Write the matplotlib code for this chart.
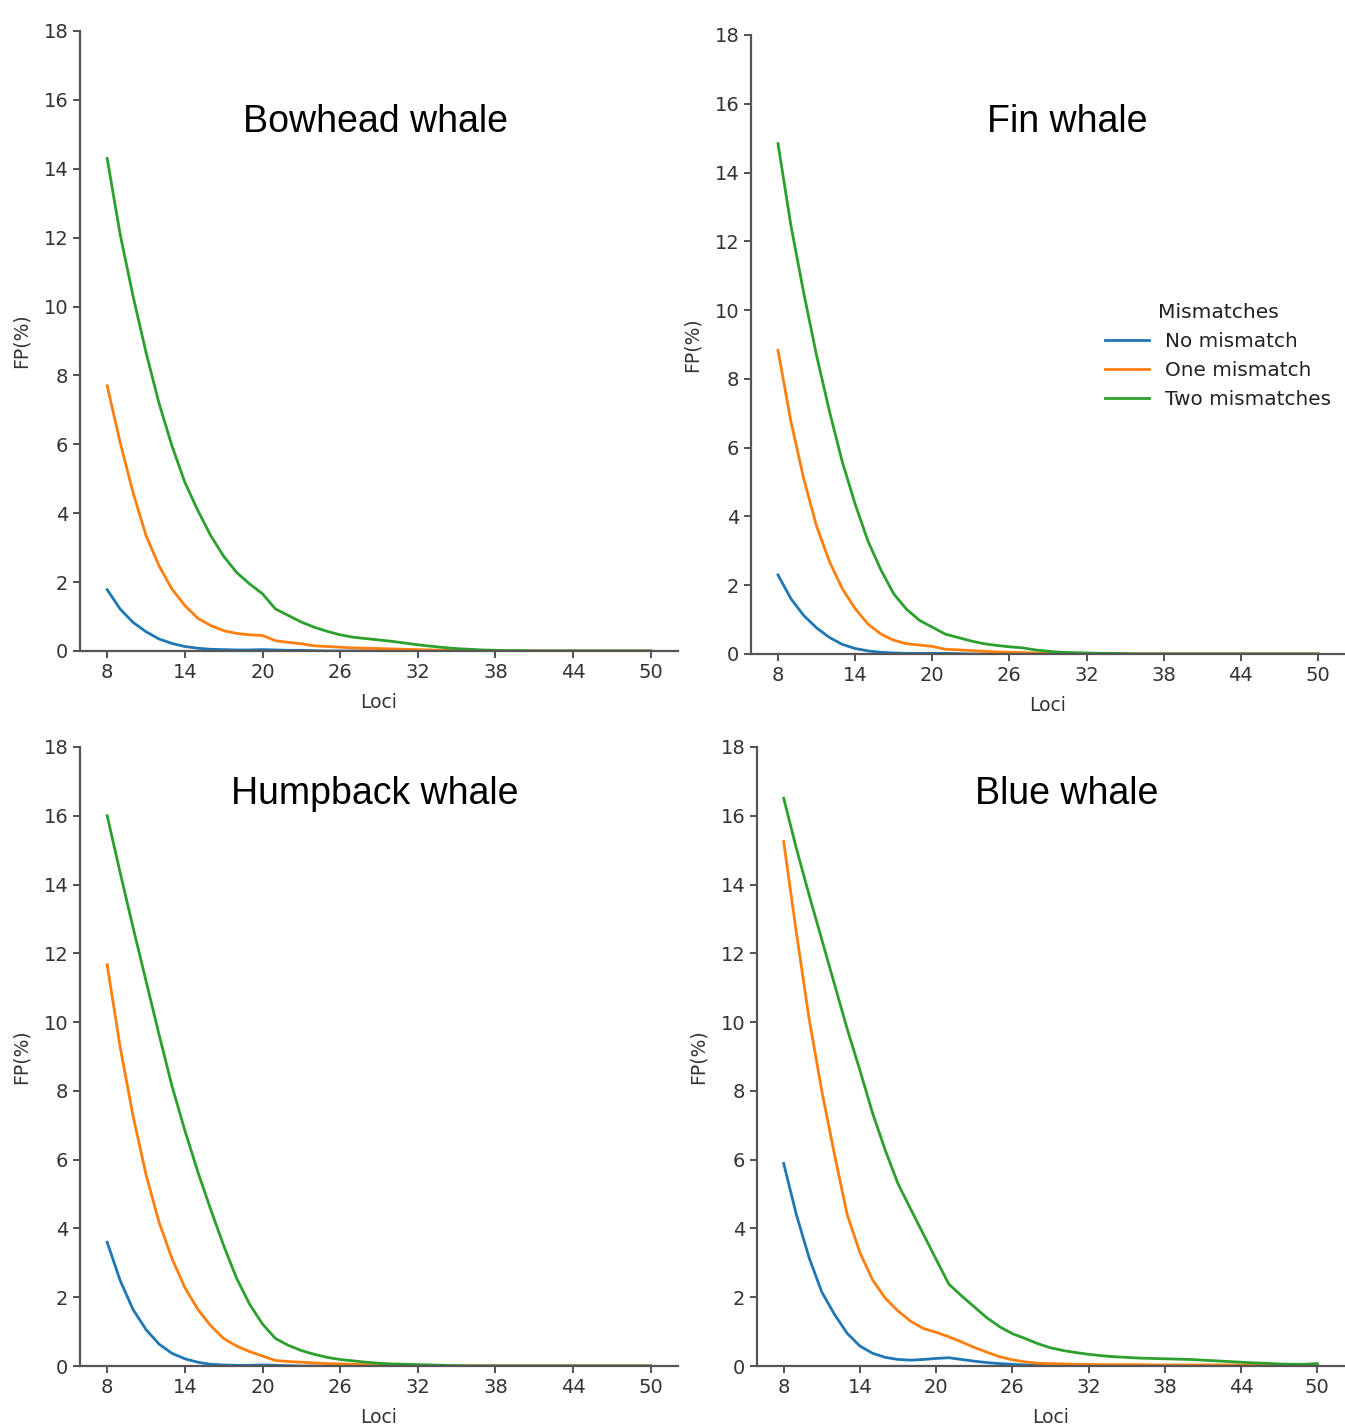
import matplotlib
matplotlib.use("Agg")
import matplotlib.pyplot as plt

loci = list(range(8, 51))
xticks = [8, 14, 20, 26, 32, 38, 44, 50]
yticks = [0, 2, 4, 6, 8, 10, 12, 14, 16, 18]
series_names = ["No mismatch", "One mismatch", "Two mismatches"]
whales = ["Bowhead whale", "Fin whale", "Humpback whale", "Blue whale"]

# FP(%) per number of loci (8..50)
bowhead_none = [1.78, 1.22, 0.83, 0.56, 0.35, 0.22, 0.13, 0.08, 0.05, 0.04,
                0.03, 0.03, 0.04, 0.03, 0.02, 0.02, 0.01, 0, 0, 0,
                0, 0, 0, 0, 0, 0, 0, 0, 0, 0,
                0, 0, 0, 0, 0, 0, 0, 0, 0, 0, 0, 0, 0]
bowhead_one = [7.7, 6.06, 4.6, 3.35, 2.48, 1.8, 1.32, 0.95, 0.74, 0.59,
               0.51, 0.47, 0.45, 0.3, 0.25, 0.21, 0.15, 0.13, 0.11, 0.09,
               0.08, 0.07, 0.06, 0.05, 0.04, 0.03, 0.02, 0.02, 0.01, 0.01,
               0, 0, 0, 0, 0, 0, 0, 0, 0, 0, 0, 0, 0]
bowhead_two = [14.3, 12.1, 10.3, 8.67, 7.2, 5.96, 4.9, 4.08, 3.35, 2.75,
               2.28, 1.95, 1.66, 1.22, 1.03, 0.84, 0.69, 0.57, 0.47, 0.4,
               0.36, 0.32, 0.28, 0.23, 0.18, 0.14, 0.1, 0.07, 0.05, 0.03,
               0.02, 0.01, 0.01, 0, 0, 0, 0, 0, 0, 0, 0, 0, 0]

fin_none = [2.3, 1.61, 1.12, 0.76, 0.48, 0.28, 0.16, 0.09, 0.05, 0.03,
            0.02, 0.02, 0.02, 0.02, 0.01, 0, 0, 0, 0, 0,
            0, 0, 0, 0, 0, 0, 0, 0, 0, 0,
            0, 0, 0, 0, 0, 0, 0, 0, 0, 0, 0, 0, 0]
fin_one = [8.83, 6.77, 5.1, 3.72, 2.69, 1.9, 1.32, 0.87, 0.58, 0.4,
           0.3, 0.26, 0.22, 0.14, 0.12, 0.1, 0.08, 0.06, 0.05, 0.04,
           0.03, 0.02, 0.02, 0.01, 0, 0, 0, 0, 0, 0,
           0, 0, 0, 0, 0, 0, 0, 0, 0, 0, 0, 0, 0]
fin_two = [14.84, 12.47, 10.5, 8.68, 7.06, 5.59, 4.36, 3.28, 2.45, 1.75,
           1.3, 0.98, 0.78, 0.58, 0.48, 0.38, 0.3, 0.25, 0.21, 0.18,
           0.12, 0.08, 0.05, 0.04, 0.03, 0.02, 0.02, 0.01, 0, 0,
           0, 0, 0, 0, 0, 0, 0, 0, 0, 0, 0, 0, 0]

humpback_none = [3.6, 2.49, 1.64, 1.06, 0.64, 0.37, 0.21, 0.11, 0.05, 0.03,
                 0.02, 0.02, 0.03, 0.02, 0.01, 0, 0, 0, 0, 0,
                 0, 0, 0, 0, 0, 0, 0, 0, 0, 0,
                 0, 0, 0, 0, 0, 0, 0, 0, 0, 0, 0, 0, 0]
humpback_one = [11.67, 9.28, 7.27, 5.57, 4.19, 3.13, 2.28, 1.65, 1.17, 0.8,
                0.58, 0.42, 0.29, 0.16, 0.13, 0.11, 0.09, 0.07, 0.06, 0.05,
                0.04, 0.03, 0.02, 0.02, 0.01, 0, 0, 0, 0, 0,
                0, 0, 0, 0, 0, 0, 0, 0, 0, 0, 0, 0, 0]
humpback_two = [16.0, 14.35, 12.75, 11.2, 9.65, 8.15, 6.85, 5.65, 4.55, 3.5,
                2.55, 1.8, 1.22, 0.8, 0.6, 0.45, 0.34, 0.25, 0.19, 0.15,
                0.11, 0.08, 0.06, 0.05, 0.04, 0.03, 0.02, 0.01, 0, 0,
                0, 0, 0, 0, 0, 0, 0, 0, 0, 0, 0, 0, 0]

blue_none = [5.89, 4.4, 3.15, 2.15, 1.5, 0.95, 0.58, 0.37, 0.25, 0.19,
             0.17, 0.19, 0.22, 0.24, 0.19, 0.14, 0.1, 0.07, 0.05, 0.03,
             0.02, 0.01, 0, 0, 0, 0, 0, 0, 0, 0,
             0, 0, 0, 0, 0, 0, 0, 0, 0, 0, 0, 0, 0]
blue_one = [15.25, 12.6, 10.1, 8.0, 6.15, 4.4, 3.3, 2.5, 1.97, 1.6,
            1.3, 1.09, 0.98, 0.85, 0.7, 0.54, 0.4, 0.27, 0.18, 0.12,
            0.08, 0.07, 0.06, 0.05, 0.05, 0.04, 0.04, 0.04, 0.04, 0.03,
            0.03, 0.03, 0.03, 0.03, 0.03, 0.03, 0.03, 0.02, 0.02, 0.02,
            0.02, 0.02, 0.02]
blue_two = [16.51, 15.05, 13.7, 12.4, 11.1, 9.8, 8.6, 7.35, 6.27, 5.3,
            4.56, 3.83, 3.1, 2.38, 2.04, 1.72, 1.4, 1.14, 0.94, 0.8,
            0.65, 0.53, 0.45, 0.39, 0.34, 0.3, 0.27, 0.25, 0.23, 0.22,
            0.21, 0.2, 0.19, 0.17, 0.15, 0.13, 0.11, 0.09, 0.08, 0.06,
            0.05, 0.05, 0.07]

data = {
    "Bowhead whale": [bowhead_none, bowhead_one, bowhead_two],
    "Fin whale": [fin_none, fin_one, fin_two],
    "Humpback whale": [humpback_none, humpback_one, humpback_two],
    "Blue whale": [blue_none, blue_one, blue_two],
}

W, H = 1345, 1428
fig = plt.figure(figsize=(W / 100, H / 100), dpi=100)

# axes boxes in pixels: left, right, top, bottom
boxes = {
    "Bowhead whale": (80, 678, 31, 651),
    "Fin whale": (751, 1345, 35, 654),
    "Humpback whale": (80, 678, 747, 1366),
    "Blue whale": (757, 1344, 747, 1366),
}
title_pos = {
    "Bowhead whale": (376, 132),
    "Fin whale": (1067, 132),
    "Humpback whale": (375, 804),
    "Blue whale": (1067, 804),
}
colors = ["#1f77b4", "#ff7f0e", "#2ca02c"]

for whale in whales:
    l, r, t, b = boxes[whale]
    ax = fig.add_axes([l / W, 1 - b / H, (r - l) / W, (b - t) / H])
    for vals, name, c in zip(data[whale], series_names, colors):
        ax.plot(loci, vals, color=c, lw=2.0, label=name)
    ax.set_xlim(5.9, 52.1)
    ax.set_ylim(0, 18)
    ax.set_xticks(xticks)
    ax.set_yticks(yticks)
    ax.tick_params(labelsize=14, colors="#333333", length=5, width=1.2)
    for s in ["top", "right"]:
        ax.spines[s].set_visible(False)
    for s in ["left", "bottom"]:
        ax.spines[s].set_color("#555555")
        ax.spines[s].set_linewidth(1.6)
    ax.set_xlabel("Loci", fontsize=13.5, color="#333333", labelpad=8)
    ax.set_ylabel("FP(%)", fontsize=13.5, color="#333333", labelpad=9)
    tx, ty = title_pos[whale]
    fig.text(tx / W, 1 - ty / H, whale, ha="center", va="baseline",
             fontsize=27, family="Liberation Sans", color="black")
    if whale == "Fin whale":
        leg = ax.legend(title="Mismatches", loc="upper left",
                        bbox_to_anchor=(0.5825, 0.58), borderaxespad=0,
                        frameon=False, fontsize=14.4, title_fontsize=14.6,
                        handlelength=2.2, handletextpad=0.8, labelspacing=0.5)
        for txt in leg.get_texts():
            txt.set_color("#222222")
        leg.get_title().set_color("#222222")

fig.savefig("out.png", dpi=100)
